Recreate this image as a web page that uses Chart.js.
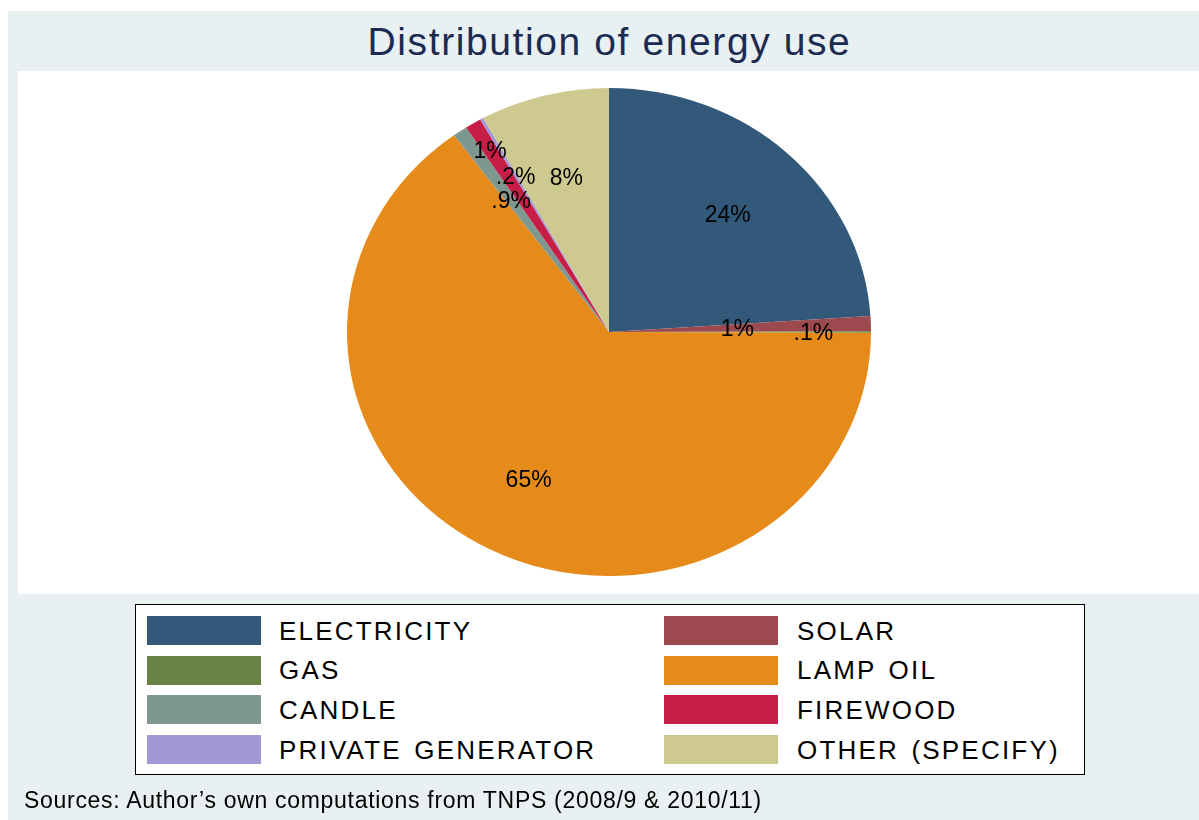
<!DOCTYPE html>
<html>
<head>
<meta charset="utf-8">
<title>Distribution of energy use</title>
<script src="https://cdn.jsdelivr.net/npm/chart.js@4/dist/chart.umd.min.js"></script>
<style>
  html, body { margin: 0; padding: 0; background: #ffffff; }
  body { width: 1199px; height: 820px; position: relative; overflow: hidden;
         font-family: "Liberation Sans", Arial, Helvetica, sans-serif; }
  #frame { position: absolute; left: 8px; top: 11px; width: 1191px; height: 809px; background: #e8f0f2; }
  #plot  { position: absolute; left: 18px; top: 71px; width: 1181px; height: 523px; background: #ffffff; }
  #chartBox { position: absolute; left: 0; top: 0; width: 1199px; height: 820px; }
  #title { position: absolute; left: 19px; width: 1181px; top: 21.5px; text-align: center;
           font-size: 39px; line-height: 39px; letter-spacing: 1.6px; color: #1c2b52; white-space: nowrap; }
  #legend { position: absolute; left: 135px; top: 604px; width: 948px; height: 169px;
            border: 1px solid #000; background: #ffffff; }
  .sw { position: absolute; width: 114px; height: 29px; }
  .lt { position: absolute; font-size: 26px; line-height: 26px; letter-spacing: 2.2px; word-spacing: 3px;
        color: #000; white-space: nowrap; }
  #source { position: absolute; left: 24px; top: 788.5px; font-size: 23px; line-height: 23px;
            letter-spacing: 0.7px; color: #000; white-space: nowrap; }
</style>
</head>
<body>
<div id="frame"></div>
<div id="plot"></div>
<div id="title">Distribution of energy use</div>
<div id="chartBox"><canvas id="pie"></canvas></div>
<div id="legend"></div>
<div id="source">Sources: Author’s own computations from TNPS (2008/9 &amp; 2010/11)</div>

<script>
// Energy sources, in the order the slices run clockwise from 12 o'clock
const categories = ['ELECTRICITY', 'SOLAR', 'GAS', 'LAMP OIL', 'CANDLE', 'FIREWOOD', 'PRIVATE GENERATOR', 'OTHER (SPECIFY)'];
// Share of households (%) for each source
const shares = [24, 1, 0.1, 65, 0.9, 1, 0.2, 8];
// Slice fill colours
const sliceColors = ['#32587a', '#9c4a50', '#668344', '#e68b1a', '#7f988f', '#c71e48', '#a099d6', '#cec98f'];
// Legend arrangement: two columns, filled row by row
const legendOrder = [0, 1, 2, 3, 4, 5, 6, 7];

// Radial placement of each slice label, as a fraction of the radius
const labelRadius = [0.663, 0.49, 0.78, 0.677, 0.657, 0.875, 0.733, 0.655];
// The pie is drawn slightly flattened (vertical radius / horizontal radius)
const squash = 244 / 262;

function pctText(v) {
  let s = String(v);
  if (v < 1) s = s.replace(/^0/, '');
  return s + '%';
}

// Flatten the pie vertically around its centre
const ellipsePlugin = {
  id: 'ellipse',
  beforeDatasetsDraw(chart) {
    const arc = chart.getDatasetMeta(0).data[0];
    const ctx = chart.ctx;
    ctx.save();
    ctx.translate(0, arc.y);
    ctx.scale(1, squash);
    ctx.translate(0, -arc.y);
  },
  afterDatasetsDraw(chart) {
    chart.ctx.restore();
  }
};

// Percentage labels inside the slices
const sliceLabelPlugin = {
  id: 'sliceLabels',
  afterDraw(chart) {
    const ctx = chart.ctx;
    const meta = chart.getDatasetMeta(0);
    const values = chart.data.datasets[0].data;
    const fs = 23;
    ctx.save();
    ctx.font = fs + 'px "Liberation Sans", Arial, sans-serif';
    ctx.fillStyle = '#000';
    ctx.textAlign = 'center';
    ctx.textBaseline = 'alphabetic';
    meta.data.forEach((arc, i) => {
      const mid = (arc.startAngle + arc.endAngle) / 2;
      const r = arc.outerRadius * labelRadius[i];
      const x = arc.x + Math.cos(mid) * r;
      const y = arc.y + Math.sin(mid) * r * squash;
      ctx.fillText(pctText(values[i]), x, y + fs * 0.358);
    });
    ctx.restore();
  }
};

new Chart(document.getElementById('pie'), {
  type: 'pie',
  data: {
    labels: categories,
    datasets: [{
      data: shares,
      backgroundColor: sliceColors,
      borderWidth: 0
    }]
  },
  options: {
    responsive: true,
    maintainAspectRatio: false,
    animation: false,
    events: [],
    layout: { padding: { left: 347, right: 328, top: 70, bottom: 226 } },
    plugins: {
      legend: { display: false },
      tooltip: { enabled: false },
      title: { display: false }
    }
  },
  plugins: [ellipsePlugin, sliceLabelPlugin]
});

// Legend built from the same categories and colours
(function buildLegend() {
  const box = document.getElementById('legend');
  const colX = [11, 528];      // swatch left edges inside the box
  const textX = [143, 661];    // label left edges inside the box
  const rowTop = 11, rowStep = 39.7;
  const fs = 26;
  legendOrder.forEach((idx, k) => {
    const col = k % 2, row = Math.floor(k / 2);
    const sw = document.createElement('div');
    sw.className = 'sw';
    sw.style.left = colX[col] + 'px';
    sw.style.top = (rowTop + row * rowStep) + 'px';
    sw.style.background = sliceColors[idx];
    box.appendChild(sw);
    const t = document.createElement('div');
    t.className = 'lt';
    t.textContent = categories[idx];
    t.style.left = textX[col] + 'px';
    // cap height centred on the swatch
    t.style.top = (rowTop + row * rowStep + 14.5 + 0.358 * fs - 0.8465 * fs) + 'px';
    box.appendChild(t);
  });
})();
</script>
</body>
</html>
